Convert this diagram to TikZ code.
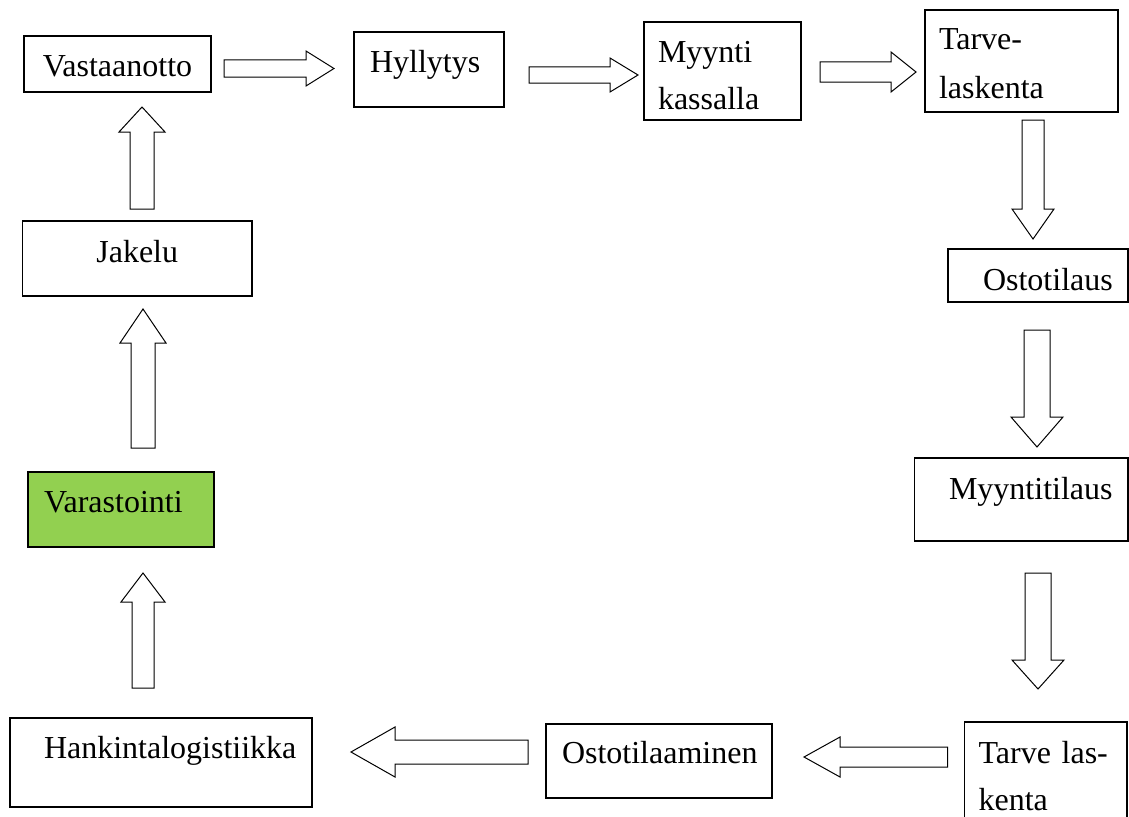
\documentclass[tikz,border=0pt]{standalone}
\usepackage{fontspec}
\setmainfont{Liberation Serif}
\usetikzlibrary{calc}
\definecolor{lightgreen}{HTML}{92D050}
\hyphenpenalty=10000
\hfuzz=40pt
\hbadness=10000

\newcommand{\fatarrow}[5]{%
	\coordinate (fa) at ($(#2)!#5!(#1)$);
	\draw [fatarr] ($(#1)!#3!90:(#2)$) -- ($(fa)!#3!90:(#2)$) -- ($(fa)!#4!90:(#2)$) -- (#2)
		-- ($(fa)!#4!-90:(#2)$) -- ($(fa)!#3!-90:(#2)$) -- ($(#1)!#3!-90:(#2)$) -- cycle;
}

\begin{document}
\begin{tikzpicture}[x=1.0pt, y=-1.0pt,
	box/.style={draw, line width=1.5pt, anchor=north west, outer sep=0pt, inner ysep=0pt, inner xsep=15pt, align=left, font=\fontsize{32}{47}\selectfont},
	fatarr/.style={draw, fill=white, line width=1pt, line join=miter}]
	\useasboundingbox (0,0) rectangle (1129,816);

	\node [box, align=center, text width=157pt, text height=41pt, text depth=15pt] (vast) at (24,36) {Vastaanotto};
	\node [box, inner xsep=16pt, text width=118pt, text height=41pt, text depth=34pt] (hyll) at (354,32) {Hyllytys};
	\node [box, inner xsep=14pt, text width=129pt, text height=41pt, text depth=57pt] (myyn) at (644,22) {Myynti\\kassalla};
	\node [box, inner xsep=14pt, text width=165pt, text height=40pt, text depth=62pt, font=\fontsize{32}{48}\selectfont] (tarv) at (925,10) {Tarve-\\laskenta};
	\node [box, inner xsep=35pt, text width=110pt, text height=41pt, text depth=12pt] (osto) at (948,249) {Ostotilaus};
	\node [box, inner xsep=34.5pt, text width=144.5pt, text height=41pt, text depth=42pt] (myti) at (914.5,458) {Myyntitilaus};
	\node [box, inner xsep=14pt, text width=134.5pt, text height=41pt, text depth=67pt] (tala) at (964.6,722) {Tarve las-\\kenta};
	\node [box, inner xsep=16pt, text width=194pt, text height=39pt, text depth=35pt] (ostm) at (546,724) {Ostotilaaminen};
	\node [box, inner xsep=34pt, text width=234pt, text height=40pt, text depth=49pt] (hank) at (10,718) {Hankintalogistiikka};
	\node [box, fill=lightgreen, inner xsep=16pt, text width=154pt, text height=40pt, text depth=35pt] (vara) at (28,472) {Varastointi};
	\node [box, align=center, text width=199.5pt, text height=41pt, text depth=34pt] (jake) at (22.5,221) {Jakelu};

	\coordinate (A1) at (224,68.5);
	\coordinate (A2) at (334,68.5);
	\coordinate (B1) at (529,75);
	\coordinate (B2) at (638,75);
	\coordinate (C1) at (820,72);
	\coordinate (C2) at (916,72);
	\coordinate (D1) at (1033,120);
	\coordinate (D2) at (1033,239);
	\coordinate (E1) at (1037,330);
	\coordinate (E2) at (1037,447);
	\coordinate (F1) at (1038,573);
	\coordinate (F2) at (1038,689);
	\coordinate (G1) at (947.5,757);
	\coordinate (G2) at (804,757);
	\coordinate (H1) at (528,752);
	\coordinate (H2) at (351,752);
	\coordinate (I1) at (143,688);
	\coordinate (I2) at (143,573);
	\coordinate (J1) at (143,448);
	\coordinate (J2) at (143,309);
	\coordinate (K1) at (142,209);
	\coordinate (K2) at (142,107);

	\fatarrow{A1}{A2}{8.5pt}{17.5pt}{28pt}
	\fatarrow{B1}{B2}{8pt}{17pt}{28pt}
	\fatarrow{C1}{C2}{10pt}{20pt}{25pt}
	\fatarrow{D1}{D2}{11pt}{21pt}{30pt}
	\fatarrow{E1}{E2}{13pt}{26pt}{30pt}
	\fatarrow{F1}{F2}{13pt}{26pt}{29pt}
	\fatarrow{G1}{G2}{10pt}{20pt}{36pt}
	\fatarrow{H1}{H2}{12pt}{25pt}{44pt}
	\fatarrow{I1}{I2}{11pt}{22pt}{29pt}
	\fatarrow{J1}{J2}{12pt}{23pt}{34pt}
	\fatarrow{K1}{K2}{12pt}{23pt}{25pt}

\end{tikzpicture}
\end{document}
